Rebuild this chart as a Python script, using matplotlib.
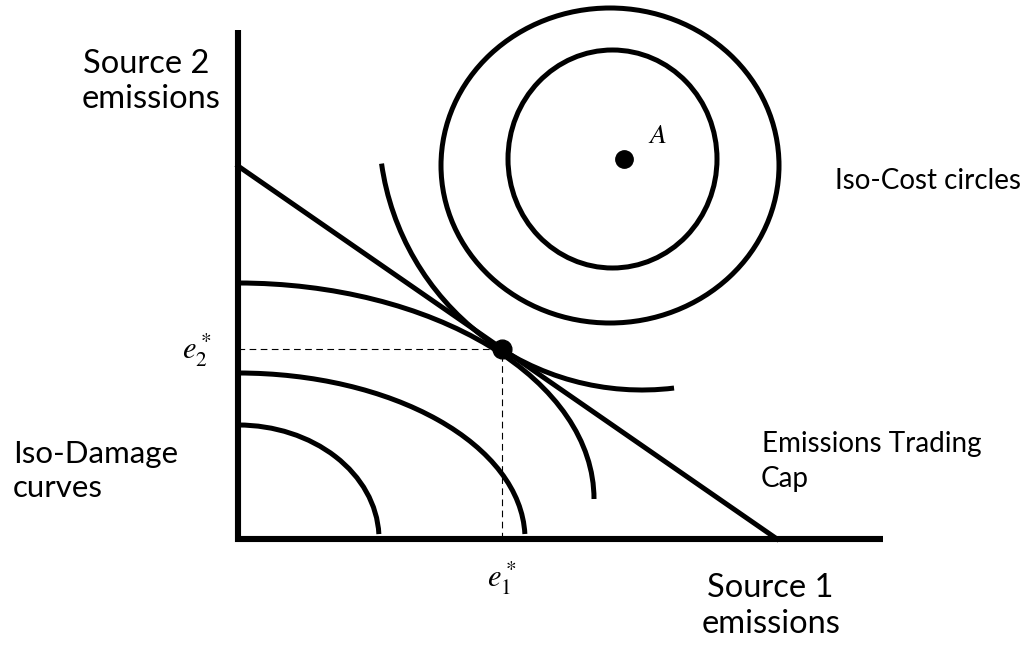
import matplotlib.pyplot as plt
from matplotlib.patches import Arc, Ellipse

plt.rcParams['font.family'] = ['Lato', 'DejaVu Sans']
plt.rcParams['mathtext.fontset'] = 'stix'

# diagram units: pixels measured from the corner of the axes
axis_len = [645, 509]          # x axis, y axis
cap_ends = [539, 373]          # x intercept, y intercept of the trading cap
optimum = [264, 190]           # (e1*, e2*)
point_a = [386, 380]

# iso-damage curves (quarter ellipses around the origin)
damage_cy = [0, 0, 40]
damage_a = [141, 287, 356]
damage_b = [114, 166, 216]
damage_t1 = [2, 1, 0]

# iso-cost closed curves around A
cost_cx = [372, 374.5]
cost_cy = [373.5, 380]
cost_rx = [169, 104.5]
cost_ry = [157.5, 109]

# iso-cost arc through the optimum
arc_c = [404, 412]
arc_r = 263
arc_t = [188, 277]

fig = plt.figure(figsize=(10.24, 6.47), dpi=100)
ax = fig.add_axes([0, 0, 1, 1])
ax.set_xlim(-238, 786)
ax.set_ylim(-108, 539)
ax.axis('off')

lw = 3.6

# axes
ax.plot([0, 0, axis_len[0]], [axis_len[1], 0, 0], color='black', lw=4.4,
        solid_joinstyle='miter', solid_capstyle='butt')

# cap line
ax.plot([0, cap_ends[0]], [cap_ends[1], 0], color='black', lw=lw)

# dashed guides
ax.plot([0, optimum[0]], [optimum[1], optimum[1]], color='black', lw=0.8,
        ls='--', dashes=(6, 4))
ax.plot([optimum[0], optimum[0]], [0, optimum[1]], color='black', lw=0.8,
        ls='--', dashes=(6, 4))

for cy, a, b, t1 in zip(damage_cy, damage_a, damage_b, damage_t1):
    ax.add_patch(Arc((0, cy), 2 * a, 2 * b, theta1=t1, theta2=90,
                     color='black', lw=lw))

for cx, cy, rx, ry in zip(cost_cx, cost_cy, cost_rx, cost_ry):
    ax.add_patch(Ellipse((cx, cy), 2 * rx, 2 * ry, fill=False,
                         edgecolor='black', lw=lw))

ax.add_patch(Arc(arc_c, 2 * arc_r, 2 * arc_r, theta1=arc_t[0], theta2=arc_t[1],
                 color='black', lw=lw))

ax.plot(*optimum, 'o', color='black', ms=13.5)
ax.plot(*point_a, 'o', color='black', ms=12.5)

fs = 20       # annotations
fs_axis = 23.5  # axis titles
ax.text(-155, 466, 'Source 2', fontsize=fs_axis)
ax.text(-156, 431, 'emissions', fontsize=fs_axis)
ax.text(-225, 76, 'Iso-Damage', fontsize=22.5)
ax.text(-225, 42, 'curves', fontsize=22.5)
ax.text(597, 350, 'Iso-Cost circles', fontsize=fs)
ax.text(524, 87, 'Emissions Trading', fontsize=fs)
ax.text(523, 52, 'Cap', fontsize=fs)
ax.text(469, -58, 'Source 1', fontsize=fs_axis)
ax.text(464, -94, 'emissions', fontsize=fs_axis)

ax.text(-41, 189, r'$e_2^*$', fontsize=22, ha='center', va='center')
ax.text(264, -39, r'$e_1^*$', fontsize=22, ha='center', va='center')
ax.text(410, 396, r'$A$', fontsize=20)

fig.savefig('out.png', dpi=100)
